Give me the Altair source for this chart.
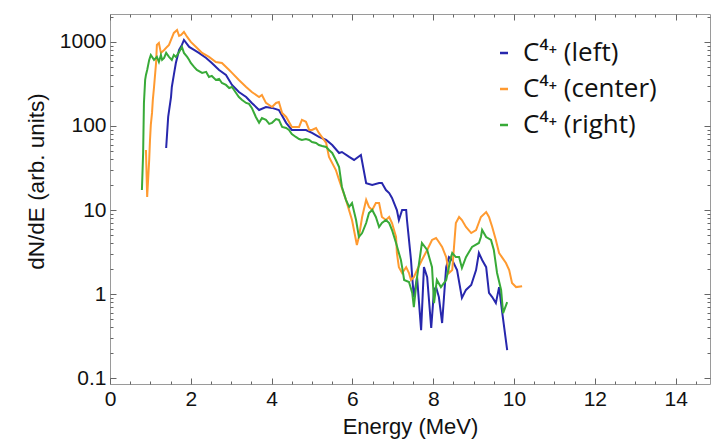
import altair as alt
import pandas as pd

# ---- data (Energy in MeV, dN/dE in arb. units) ----
left_E = [1.39, 1.44, 1.51, 1.53, 1.58, 1.63, 1.71, 1.78, 1.83, 1.96, 2.08, 2.20, 2.38, 2.52, 2.70, 2.87,
          3.02, 3.19, 3.37, 3.51, 3.69, 3.86, 4.01, 4.18, 4.36, 4.50, 4.68, 4.85, 5.00, 5.17, 5.35, 5.50,
          5.67, 5.74, 5.92, 6.04, 6.21, 6.34, 6.49, 6.66, 6.73, 6.83, 6.91, 6.98, 7.10, 7.15, 7.23, 7.33,
          7.35, 7.40, 7.45, 7.48, 7.52, 7.60, 7.70, 7.77, 7.85, 7.95, 8.02, 8.07, 8.14, 8.22, 8.32, 8.39,
          8.47, 8.59, 8.71, 8.81, 8.94, 9.06, 9.13, 9.21, 9.31, 9.38, 9.46, 9.55, 9.63, 9.70, 9.83]
left_V = [54.7, 128, 221, 291, 405, 562, 803, 921, 1056, 872, 803, 740, 645, 562, 464, 405,
          308, 254, 221, 188, 155, 168, 164, 155, 109, 89.6, 89.6, 89.6, 82.6, 74, 68.1, 59.4,
          47.7, 49, 42.8, 39.4, 45.2, 20.9, 19.9, 20.9, 20.9, 17.3, 15.9, 13.9, 10, 7.6, 10, 10,
          7.6, 4.4, 2.54, 1.59, 0.92, 1.59, 0.372, 2.09, 1.59, 0.394, 1.12, 1.21, 0.92, 0.452, 2.09, 2.75,
          2.54, 1.93, 0.9, 1.12, 1.28, 1.93, 3.08, 2.54, 2.09, 1.03, 0.92, 0.78, 1.21, 0.645, 0.215]

center_E = [0.89, 0.92, 0.97, 0.99, 1.01, 1.04, 1.06, 1.09, 1.14, 1.16, 1.21, 1.26, 1.34, 1.41, 1.46, 1.51,
            1.58, 1.66, 1.71, 1.76, 1.83, 1.91, 2.00, 2.13, 2.28, 2.45, 2.62, 2.77, 2.95, 3.02, 3.19, 3.37,
            3.51, 3.69, 3.76, 3.86, 4.01, 4.11, 4.18, 4.26, 4.36, 4.50, 4.68, 4.75, 4.85, 4.93, 5.00, 5.10,
            5.17, 5.35, 5.42, 5.59, 5.67, 5.84, 5.99, 6.11, 6.16, 6.24, 6.34, 6.41, 6.49, 6.58, 6.66, 6.73,
            6.83, 6.91, 6.98, 7.08, 7.10, 7.15, 7.23, 7.33, 7.40, 7.45, 7.52, 7.60, 7.72, 7.85, 7.97, 8.07,
            8.14, 8.22, 8.32, 8.39, 8.47, 8.56, 8.64, 8.71, 8.81, 8.94, 9.06, 9.18, 9.31, 9.38, 9.46, 9.55,
            9.63, 9.70, 9.80, 9.88, 9.95, 10.05, 10.20]
center_V = [51.8, 14.3, 39.4, 68.1, 103, 143, 204, 291, 562, 921, 973, 740, 803, 872, 921, 1056,
            1280, 1390, 1178, 1211, 1316, 1147, 1000, 872, 740, 663, 578, 562, 464, 428, 353, 291,
            254, 221, 234, 188, 168, 188, 193, 143, 128, 97.3, 97.3, 118, 112, 89.6, 89.6, 94.6,
            82.6, 62.8, 42.8, 29.9, 22.8, 13.2, 7.6, 3.83, 4.77, 8.26, 13.2, 10.9, 10, 12.1, 12.1, 8.26,
            7.6, 8.26, 7.0, 4.77, 3.08, 2.09, 1.78, 2.09, 1.78, 1.47, 1.59, 1.93, 2.54, 3.34, 4.4, 4.64,
            4.16, 3.63, 2.75, 1.78, 1.93, 7.0, 8.26, 7.6, 6.28, 5.32, 5.78, 8.26, 9.47, 8.26, 6.28, 4.4,
            3.08, 2.75, 2.34, 1.93, 1.35, 1.21, 1.24]

right_E = [0.79, 0.82, 0.84, 0.87, 0.89, 0.92, 0.97, 1.01, 1.09, 1.16, 1.21, 1.26, 1.29, 1.34, 1.39, 1.46,
           1.53, 1.58, 1.63, 1.71, 1.78, 1.83, 1.91, 1.96, 2.00, 2.08, 2.15, 2.28, 2.38, 2.45, 2.52, 2.62,
           2.70, 2.77, 2.87, 2.95, 3.02, 3.12, 3.19, 3.27, 3.37, 3.44, 3.51, 3.61, 3.69, 3.76, 3.86, 3.94,
           4.01, 4.11, 4.18, 4.26, 4.36, 4.43, 4.50, 4.60, 4.68, 4.75, 4.85, 4.93, 5.00, 5.10, 5.17, 5.25,
           5.35, 5.42, 5.50, 5.59, 5.67, 5.74, 5.84, 5.92, 5.99, 6.09, 6.16, 6.24, 6.34, 6.41, 6.49, 6.58,
           6.66, 6.73, 6.83, 6.91, 6.98, 7.08, 7.15, 7.20, 7.23, 7.28, 7.40, 7.48, 7.52, 7.60, 7.72, 7.85,
           7.97, 8.02, 8.09, 8.19, 8.32, 8.44, 8.47, 8.56, 8.64, 8.71, 8.81, 8.96, 9.13, 9.18, 9.21, 9.31,
           9.43, 9.50, 9.58, 9.68, 9.73, 9.83]
right_V = [17.3, 47.7, 188, 353, 405, 464, 611, 700, 611, 663, 578, 700, 611, 645, 740, 663,
           611, 700, 663, 760, 872, 740, 663, 611, 562, 504, 464, 428, 440, 383, 394, 353,
           363, 325, 308, 283, 291, 247, 221, 204, 188, 183, 164, 128, 109, 124, 118, 106,
           109, 121, 118, 97.3, 94.6, 89.6, 80.3, 74, 70, 68.1, 70, 68.1, 64.5, 62.8, 59.4, 57.8,
           56.2, 51.8, 47.7, 39.4, 32.5, 18.8, 13.2, 10.9, 12.1, 7.6, 4.77, 5.32, 7.0, 9.2, 10, 8.26,
           6.28, 7.0, 7.6, 7.0, 5.78, 4.05, 3.08, 2.54, 2.09, 1.47, 1.39, 1.03, 0.7, 1.59, 4.05, 3.34,
           2.09, 0.78, 1.47, 1.21, 1.47, 2.75, 3.08, 2.75, 2.75, 2.04, 2.75, 3.63, 4.05, 4.77, 5.78, 4.77,
           4.4, 3.34, 1.78, 1.12, 0.594, 0.8]

series_names = ["C\u2074\u207a (left)", "C\u2074\u207a (center)", "C\u2074\u207a (right)"]
series_colors = ["#2727ad", "#ff9a30", "#38aa38"]

x_major = [0, 2, 4, 6, 8, 10, 12, 14]
x_minor = [0.5, 1, 1.5, 2.5, 3, 3.5, 4.5, 5, 5.5, 6.5, 7, 7.5, 8.5, 9, 9.5,
           10.5, 11, 11.5, 12.5, 13, 13.5, 14.5]
y_major = [0.1, 1, 10, 100, 1000]
y_minor = [0.2, 0.3, 0.4, 0.5, 0.6, 0.7, 0.8, 0.9,
           2, 3, 4, 5, 6, 7, 8, 9,
           20, 30, 40, 50, 60, 70, 80, 90,
           200, 300, 400, 500, 600, 700, 800, 900, 2000]
x_domain = [0, 14.85]
y_domain = [0.085, 2150]

# ---- table ----
rows = []
for name, es, vs in zip(series_names, [left_E, center_E, right_E], [left_V, center_V, right_V]):
    for i, (e, v) in enumerate(zip(es, vs)):
        rows.append({"series": name, "E": e, "V": v, "i": i})
df = pd.DataFrame(rows)

FONT = "Liberation Sans, Arial, sans-serif"
TICK = "#666666"
MAJ = {"expr": "-6"}   # inward ticks
MIN = {"expr": "-3"}
xs = alt.Scale(domain=x_domain, nice=False, zero=False)
ys = alt.Scale(type="log", domain=y_domain, nice=False)

base = alt.Chart(df)

lines = base.mark_line(strokeWidth=2, clip=True).encode(
    x=alt.X("E:Q", scale=xs, axis=alt.Axis(
        orient="bottom", values=x_major, format="d", title="Energy (MeV)", tickSize=MAJ,
        tickColor=TICK, domain=False, grid=False, labelFlush=False, labelPadding=10, labelFont=FONT,
        labelFontSize=21, labelColor="#111", titleFont=FONT, titleFontSize=22,
        titleFontWeight="normal", titleColor="#111", titleBaseline="alphabetic", titleY=49)),
    y=alt.Y("V:Q", scale=ys, axis=alt.Axis(
        orient="left", values=y_major, format="~g", title="dN/dE (arb. units)", tickSize=MAJ,
        tickColor=TICK, domain=False, grid=False, labelFlush=False, labelPadding=10, labelFont=FONT,
        labelFontSize=21, labelColor="#111", titleFont=FONT, titleFontSize=22.5,
        titleFontWeight="normal", titleColor="#111", titleX=-62, titleY=167)),
    color=alt.Color("series:N", scale=alt.Scale(domain=series_names, range=series_colors),
                    legend=alt.Legend(orient="none", legendX=381, legendY=26, title=None,
                                      symbolType="stroke", symbolSize=64, symbolStrokeWidth=2.5,
                                      labelFont="Open Sans", labelFontSize=26, labelColor="#111",
                                      labelOffset=6, rowPadding=10, padding=0, labelLimit=300)),
    order="i:Q",
)


def tick_layer(x_orient, x_vals, x_size, y_orient, y_vals, y_size):
    return base.mark_line(strokeOpacity=0).encode(
        x=alt.X("E:Q", scale=xs, axis=alt.Axis(
            orient=x_orient, values=x_vals, tickSize=x_size, labels=False,
            domain=False, grid=False, title=None, tickColor=TICK)),
        y=alt.Y("V:Q", scale=ys, axis=alt.Axis(
            orient=y_orient, values=y_vals, tickSize=y_size, labels=False,
            domain=False, grid=False, title=None, tickColor=TICK)),
        detail="series:N",
    )


minor_bl = tick_layer("bottom", x_minor, MIN, "left", y_minor, MIN)
major_tr = tick_layer("top", x_major, MAJ, "right", y_major, MAJ)
minor_tr = tick_layer("top", x_minor, MIN, "right", y_minor, MIN)

chart = (
    alt.layer(lines, minor_bl, major_tr, minor_tr)
    .resolve_axis(x="independent", y="independent")
    .properties(width=600, height=370, autosize=alt.AutoSizeParams(type="none"),
                padding={"left": 102, "top": 6, "right": 1, "bottom": 55}, background="white")
    .configure_view(stroke="#9a9a9a", strokeWidth=1)
)

chart.save("out.html", embed_options={"renderer": "svg", "actions": False})
